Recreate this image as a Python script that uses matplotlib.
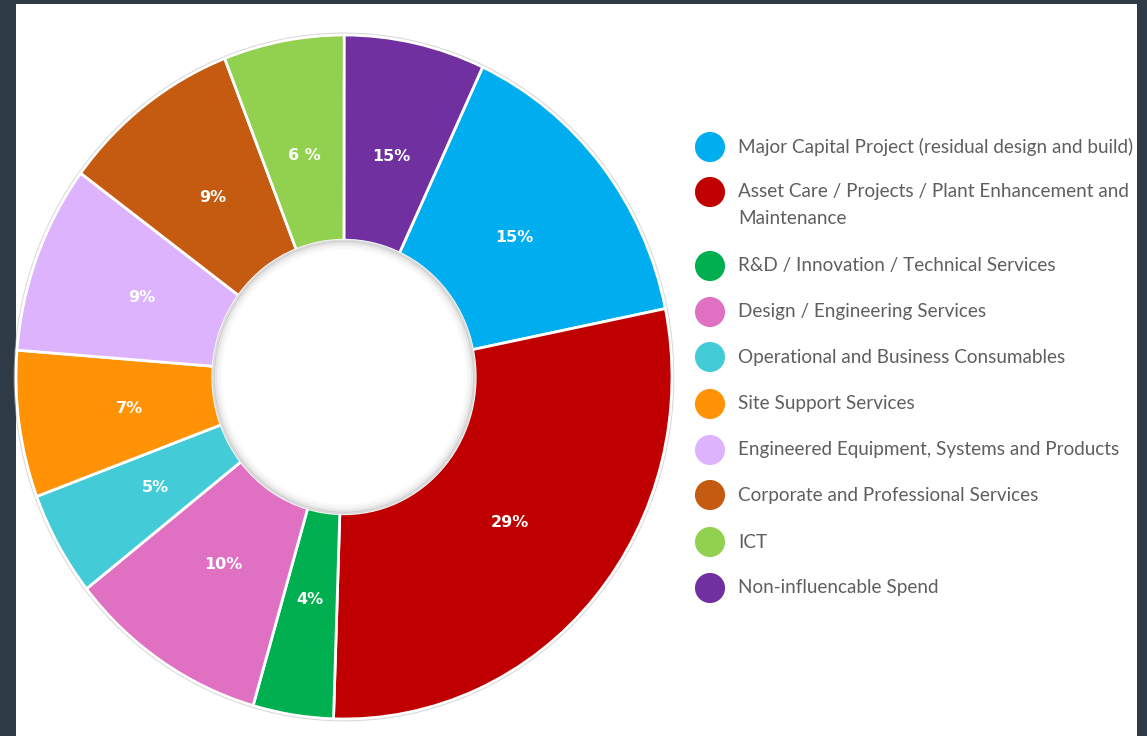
import numpy as np
import matplotlib.pyplot as plt
from matplotlib.patches import Rectangle, Circle

# Datos del grafico
categories = [
    "Major Capital Project (residual design and build)",
    "Asset Care / Projects / Plant Enhancement and\nMaintenance",
    "R&D / Innovation / Technical Services",
    "Design / Engineering Services",
    "Operational and Business Consumables",
    "Site Support Services",
    "Engineered Equipment, Systems and Products",
    "Corporate and Professional Services",
    "ICT",
    "Non-influencable Spend",
]
shares = [15, 29, 4, 10, 5, 7, 9, 9, 6, 7]
pct_labels = ["15%", "29%", "4%", "10%", "5%", "7%", "9%", "9%", "6 %", "15%"]
colors = ["#00adef", "#c00000", "#00b050", "#e070c2", "#43cbd7",
          "#ff9305", "#ddb3fd", "#c55a11", "#92d050", "#7030a0"]

W, H = 1147, 736
fig = plt.figure(figsize=(W / 100, H / 100), dpi=100, facecolor="#2e3b47")

# Panel blanco (detras de los ejes)
fig.patches.append(Rectangle((16 / W, 0), (1137 - 16) / W, (H - 4) / H,
                             transform=fig.transFigure, facecolor="white",
                             edgecolor="none", zorder=-10))

# Ejes del donut (centro 344,377 ; radios 328 x 342 px)
cx, cy, rx, ry = 344, 377, 328, 342
m = 1.02
ax = fig.add_axes([(cx - rx * m) / W, (H - cy - ry * m) / H,
                   2 * rx * m / W, 2 * ry * m / H])
wedges, _ = ax.pie(shares, colors=colors, startangle=65, counterclock=False,
                   radius=1.0, wedgeprops=dict(width=0.6, edgecolor="white",
                                               linewidth=2))
ax.set_aspect("auto")
ax.set_xlim(-m, m)
ax.set_ylim(-m, m)
ax.axis("off")

# Sombras suaves
ax.add_patch(Circle((0, 0), 1.004, fill=False, edgecolor="#bdbdbd",
                    linewidth=1.5, alpha=0.6, zorder=0))
for r, a in [(0.398, 0.35), (0.392, 0.22), (0.385, 0.12), (0.377, 0.06)]:
    ax.add_patch(Circle((0, 0), r, fill=False, edgecolor="#9a9a9a",
                        linewidth=2, alpha=a, zorder=3))

# Etiquetas de porcentaje
for w, lab in zip(wedges, pct_labels):
    ang = np.deg2rad((w.theta1 + w.theta2) / 2)
    ax.text(0.66 * np.cos(ang), 0.66 * np.sin(ang), lab, ha="center",
            va="center", color="white", fontsize=11.5, fontweight="bold",
            family="DejaVu Sans", zorder=4)

# Leyenda
lax = fig.add_axes([0, 0, 1, 1])
lax.set_xlim(0, W)
lax.set_ylim(H, 0)
lax.axis("off")
leg_y = [147, 192, 266, 312, 357, 404, 450, 495, 542, 588]
for y, c, name in zip(leg_y, colors, categories):
    lax.scatter([710], [y], s=470, color=c, edgecolors="none")
    for i, line in enumerate(name.split("\n")):
        lax.text(738, y + i * 27, line, ha="left", va="center",
                 color="#5f5f5f", fontsize=13.6, family="Lato")

fig.savefig("out.png", dpi=100, facecolor=fig.get_facecolor())
